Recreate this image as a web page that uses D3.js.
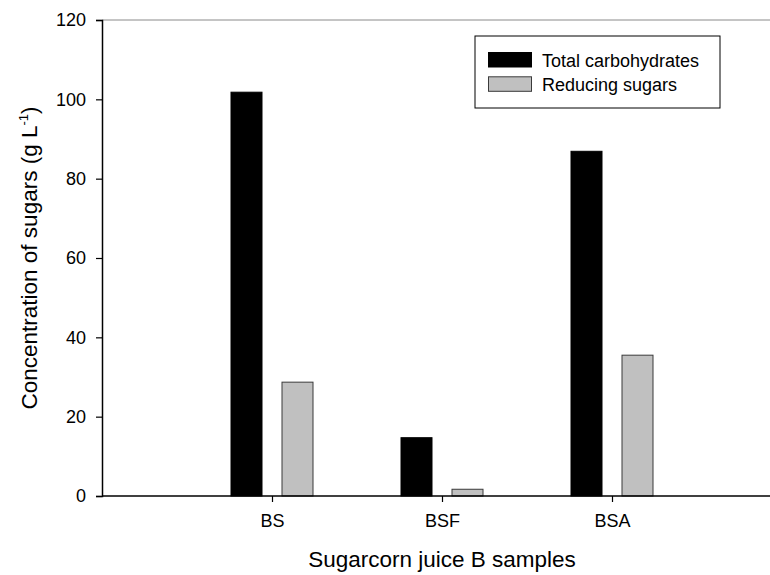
<!DOCTYPE html>
<html>
<head>
<meta charset="utf-8">
<script src="https://cdn.jsdelivr.net/npm/d3@7"></script>
<style>
  body { margin: 0; background: #fff; }
  svg { display: block; font-family: "Liberation Sans", Arial, sans-serif; }
</style>
</head>
<body>
<svg id="chart" width="770" height="575"></svg>
<script>
// Sample categories and measured sugar concentrations (g/L)
const samples = ["BS", "BSF", "BSA"];
const totalCarbohydrates = [101.8, 14.7, 86.9];
const reducingSugars = [28.7, 1.7, 35.5];
const yTicks = [0, 20, 40, 60, 80, 100, 120];
const seriesNames = ["Total carbohydrates", "Reducing sugars"];
const seriesFills = ["#000000", "#c0c0c0"];

const svg = d3.select("#chart");
const plotLeft = 102, plotTop = 20, plotBottom = 496, plotRight = 782;

// x positions: categories at 1, 2, 3 on a 0..4 axis
const x = d3.scaleLinear().domain([0, 4]).range([plotLeft, plotRight]);
const y = d3.scaleLinear().domain([0, 120]).range([plotBottom, plotTop]);

const barW = 31, offset = 25.5;
const series = [totalCarbohydrates, reducingSugars];

// top frame line
svg.append("line")
  .attr("x1", plotLeft).attr("x2", plotRight)
  .attr("y1", plotTop).attr("y2", plotTop)
  .attr("stroke", "#8a8a8a").attr("stroke-width", 1);

// bars
series.forEach((vals, si) => {
  svg.append("g").selectAll("rect")
    .data(vals)
    .join("rect")
    .attr("x", (d, i) => x(i + 1) + (si === 0 ? -offset : offset) - barW / 2)
    .attr("y", d => y(d))
    .attr("width", barW)
    .attr("height", d => y(0) - y(d))
    .attr("fill", seriesFills[si])
    .attr("stroke", si === 0 ? "#000" : "#3a3a3a")
    .attr("stroke-width", 1);
});

// y axis
const yAxis = svg.append("g")
  .attr("transform", `translate(${plotLeft},0)`)
  .call(d3.axisLeft(y).tickValues(yTicks).tickSize(6).tickPadding(10).tickFormat(d3.format("d")));
yAxis.select(".domain").attr("stroke", "#000").attr("stroke-width", 1.5);
yAxis.selectAll(".tick line").attr("stroke", "#000").attr("stroke-width", 1.2);
yAxis.selectAll(".tick text").attr("font-size", 18).attr("fill", "#000")
  .attr("font-family", "Liberation Sans, Arial, sans-serif");

// x axis
const xAxis = svg.append("g")
  .attr("transform", `translate(0,${plotBottom})`)
  .call(d3.axisBottom(x).tickValues([1, 2, 3]).tickSize(6).tickPadding(12)
    .tickFormat(d => samples[d - 1]));
xAxis.select(".domain").attr("stroke", "#000").attr("stroke-width", 1.5)
  .attr("d", `M${plotLeft},0H${plotRight}`);
xAxis.selectAll(".tick line").attr("stroke", "#000").attr("stroke-width", 1.2);
xAxis.selectAll(".tick text").attr("font-size", 18).attr("fill", "#000")
  .attr("font-family", "Liberation Sans, Arial, sans-serif");

// axis titles
svg.append("text")
  .attr("x", x(2)).attr("y", 567)
  .attr("text-anchor", "middle")
  .attr("font-size", 22.5)
  .text("Sugarcorn juice B samples");

const yt = svg.append("text")
  .attr("transform", `translate(37,${(plotTop + plotBottom) / 2}) rotate(-90)`)
  .attr("text-anchor", "middle")
  .attr("font-size", 22.5);
yt.append("tspan").text("Concentration of sugars (g L");
yt.append("tspan").attr("font-size", 13).attr("dy", -9).text("-1");
yt.append("tspan").attr("dy", 9).text(")");

// legend
const lg = svg.append("g");
lg.append("rect")
  .attr("x", 475).attr("y", 36).attr("width", 245).attr("height", 72)
  .attr("fill", "#fff").attr("stroke", "#000").attr("stroke-width", 1);
seriesNames.forEach((name, i) => {
  lg.append("rect")
    .attr("x", 488.5).attr("y", 52.5 + i * 24.3)
    .attr("width", 43).attr("height", 14.5)
    .attr("fill", seriesFills[i])
    .attr("stroke", i === 0 ? "#000" : "#3a3a3a").attr("stroke-width", 1);
  lg.append("text")
    .attr("x", 542).attr("y", 66.5 + i * 24.3)
    .attr("font-size", 18)
    .text(name);
});
</script>
</body>
</html>
